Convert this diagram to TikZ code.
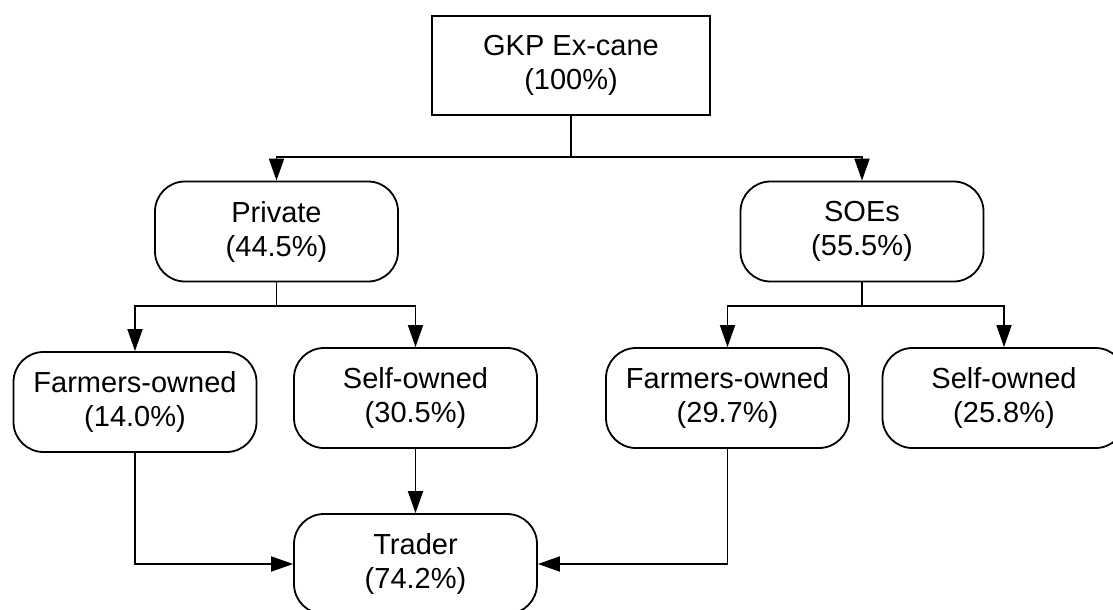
\documentclass[tikz,border=0pt]{standalone}
\usepackage{fontspec}
\setmainfont{Liberation Sans}
\usetikzlibrary{arrows.meta}
\begin{document}
\begin{tikzpicture}[x=1pt,y=-1pt,
  line width=1.8pt,
  box/.style={draw, rectangle, inner sep=0pt, align=center,
    font=\fontsize{29}{34}\selectfont, minimum height=100pt},
  rbox/.style={box, rounded corners=30pt, minimum width=243pt},
  arr/.style={-{Triangle[length=22pt,width=15pt]}}]
\clip (0,0) rectangle (1113,610);
\useasboundingbox (0,0) rectangle (1113,610);

% boxes
\node[box, minimum width=278pt, minimum height=99pt] (top) at (571,65.5) {GKP Ex-cane\\(100\%)};
\node[rbox] (priv) at (276.5,231.5) {Private\\(44.5\%)};
\node[rbox] (soe) at (862,231.5) {SOEs\\(55.5\%)};
\node[rbox] (farmL) at (135,402) {Farmers-owned\\(14.0\%)};
\node[rbox] (selfL) at (415.5,398) {Self-owned\\(30.5\%)};
\node[rbox] (farmR) at (727.5,398) {Farmers-owned\\(29.7\%)};
\node[rbox] (selfR) at (1004,398) {Self-owned\\(25.8\%)};
\node[rbox] (trader) at (415.5,564) {Trader\\(74.2\%)};

% branch points
\coordinate (j1) at (571,157);
\coordinate (j2) at (276.5,306);
\coordinate (j3) at (862,306);

% connectors
\draw (top.south) -- (j1);
\draw[arr] (j1) -| (priv.north);
\draw[arr] (j1) -| (soe.north);
\draw (priv.south) -- (j2);
\draw[arr] (j2) -| (farmL.north);
\draw[arr] (j2) -| (selfL.north);
\draw (soe.south) -- (j3);
\draw[arr] (j3) -| (farmR.north);
\draw[arr] (j3) -| (selfR.north);
\draw[arr] (selfL.south) -- (trader.north);
\draw[arr] (farmL.south) |- (trader.west);
\draw[arr] (farmR.south) |- (trader.east);
\end{tikzpicture}
\end{document}
